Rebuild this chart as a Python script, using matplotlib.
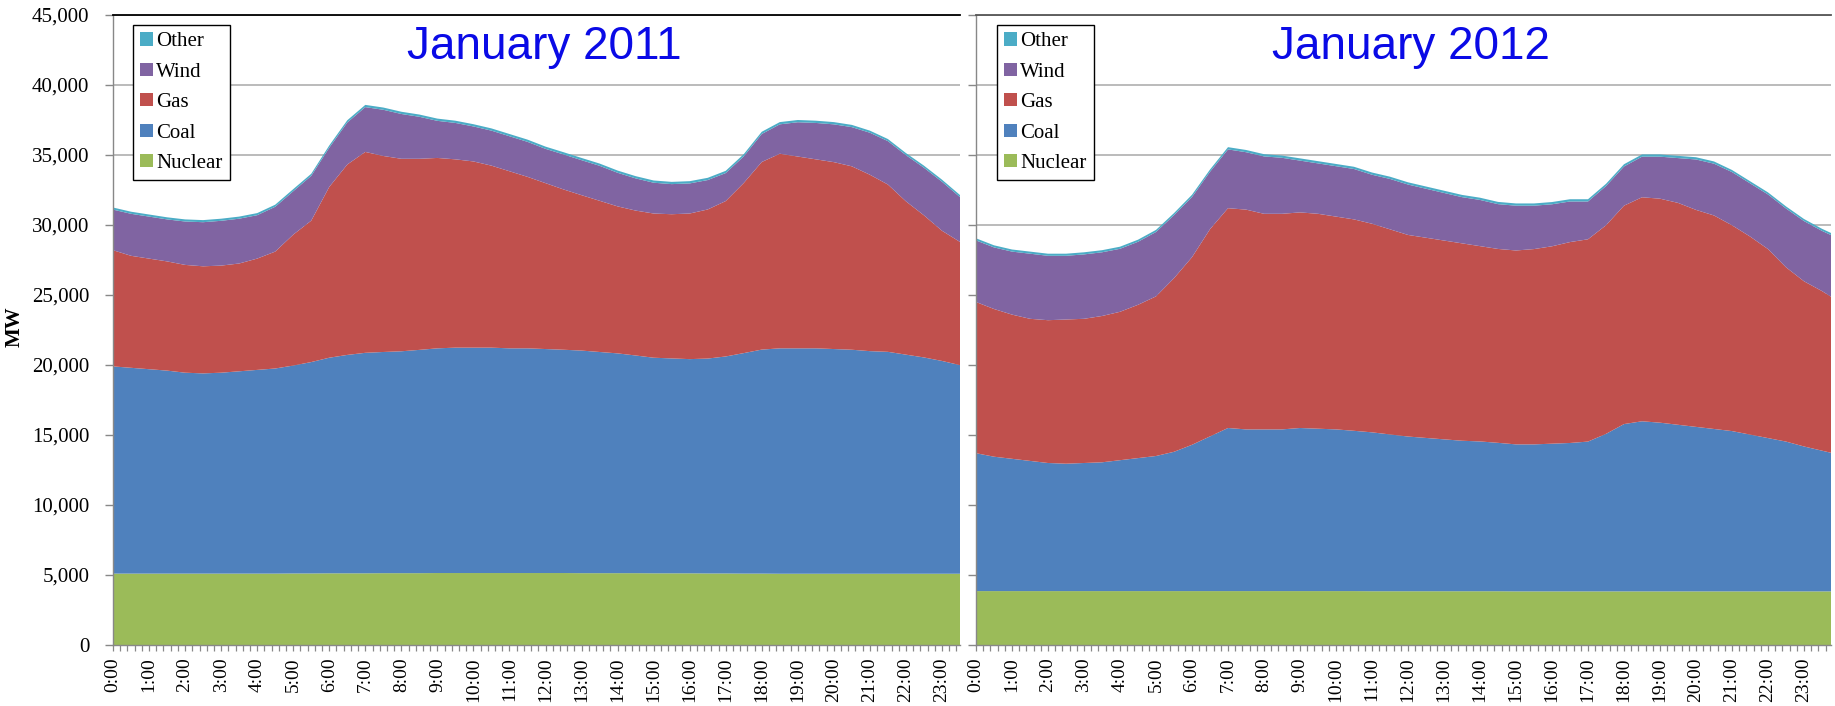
import numpy as np
import matplotlib
matplotlib.use("Agg")
import matplotlib.pyplot as plt
from matplotlib.ticker import FuncFormatter, MultipleLocator, FixedLocator
from matplotlib.patches import Patch

# ---------------- data (MW) ----------------
sources = ["Nuclear", "Coal", "Gas", "Wind", "Other"]
colors = ["#9BBB59", "#4F81BD", "#C0504D", "#8064A2", "#4BACC6"]

hours_2011 = [0.0, 0.5, 1.0, 1.5, 2.0, 2.5, 3.0, 3.5, 4.0, 4.5, 5.0, 5.5,
              6.0, 6.5, 7.0, 7.5, 8.0, 8.5, 9.0, 9.5, 10.0, 10.5, 11.0, 11.5,
              12.0, 12.5, 13.0, 13.5, 14.0, 14.5, 15.0, 15.5, 16.0, 16.5, 17.0, 17.5,
              18.0, 18.5, 19.0, 19.5, 20.0, 20.5, 21.0, 21.5, 22.0, 22.5, 23.0, 23.5]
nuclear_2011 = [5100, 5100, 5100, 5100, 5100, 5100, 5100, 5100, 5100, 5100, 5110, 5110,
                5120, 5120, 5120, 5130, 5130, 5130, 5140, 5140, 5140, 5140, 5140, 5140,
                5140, 5140, 5130, 5130, 5130, 5130, 5120, 5120, 5120, 5110, 5110, 5100,
                5100, 5090, 5090, 5090, 5090, 5090, 5090, 5090, 5090, 5090, 5090, 5090]
coal_2011 = [14800, 14700, 14600, 14500, 14350, 14300, 14350, 14450, 14550, 14650, 14850, 15100,
             15400, 15600, 15750, 15800, 15850, 15950, 16050, 16100, 16100, 16100, 16050, 16050,
             16000, 15950, 15900, 15800, 15700, 15550, 15400, 15350, 15300, 15350, 15500, 15750,
             16000, 16100, 16100, 16100, 16050, 16000, 15900, 15850, 15650, 15450, 15200, 14900]
gas_2011 = [8300, 8000, 7900, 7800, 7700, 7650, 7650, 7700, 7950, 8350, 9350, 10100,
            12200, 13600, 14350, 14000, 13750, 13650, 13600, 13450, 13300, 13000, 12650, 12250,
            11850, 11450, 11100, 10800, 10500, 10350, 10300, 10300, 10400, 10650, 11100, 12150,
            13400, 13900, 13700, 13500, 13350, 13100, 12600, 11950, 10950, 10150, 9300, 8800]
wind_2011 = [2900, 3000, 3000, 3000, 3100, 3150, 3200, 3200, 3100, 3200, 3100, 3200,
             2800, 3000, 3200, 3300, 3200, 3000, 2650, 2600, 2500, 2500, 2500, 2500,
             2450, 2500, 2500, 2500, 2400, 2300, 2200, 2150, 2150, 2100, 2000, 1900,
             2000, 2100, 2450, 2600, 2700, 2800, 3000, 3100, 3300, 3400, 3500, 3200]
other_2011 = [150, 150, 150, 150, 150, 150, 150, 150, 150, 150, 150, 150,
              160, 160, 160, 160, 160, 160, 160, 160, 160, 160, 160, 160,
              160, 160, 160, 160, 160, 160, 160, 160, 160, 160, 160, 160,
              160, 160, 160, 160, 160, 160, 150, 150, 150, 150, 150, 150]

hours_2012 = [0.0, 0.5, 1.0, 1.5, 2.0, 2.5, 3.0, 3.5, 4.0, 4.5, 5.0, 5.5,
              6.0, 6.5, 7.0, 7.5, 8.0, 8.5, 9.0, 9.5, 10.0, 10.5, 11.0, 11.5,
              12.0, 12.5, 13.0, 13.5, 14.0, 14.5, 15.0, 15.5, 16.0, 16.5, 17.0, 17.5,
              18.0, 18.5, 19.0, 19.5, 20.0, 20.5, 21.0, 21.5, 22.0, 22.5, 23.0, 23.5, 23.75]
nuclear_2012 = [3850, 3850, 3850, 3850, 3850, 3850, 3850, 3850, 3850, 3850, 3850, 3850,
                3850, 3850, 3850, 3850, 3850, 3850, 3850, 3850, 3850, 3850, 3840, 3840,
                3840, 3840, 3840, 3840, 3840, 3840, 3830, 3830, 3830, 3830, 3830, 3830,
                3830, 3830, 3830, 3830, 3830, 3830, 3830, 3830, 3830, 3830, 3830, 3830, 3830]
coal_2012 = [9850, 9600, 9450, 9300, 9150, 9100, 9150, 9200, 9350, 9500, 9650, 9950,
             10450, 11050, 11650, 11550, 11550, 11550, 11650, 11600, 11550, 11450, 11350, 11200,
             11050, 10950, 10850, 10750, 10700, 10600, 10500, 10500, 10550, 10600, 10700, 11250,
             11950, 12150, 12050, 11900, 11750, 11600, 11450, 11200, 10950, 10700, 10350, 10050, 9900]
gas_2012 = [10800, 10550, 10300, 10150, 10200, 10300, 10300, 10450, 10600, 10950, 11400, 12400,
            13400, 14800, 15700, 15700, 15400, 15400, 15400, 15350, 15200, 15100, 14900, 14650,
            14400, 14300, 14200, 14100, 13950, 13850, 13850, 13950, 14100, 14350, 14450, 14900,
            15600, 16000, 16000, 15850, 15500, 15250, 14700, 14150, 13500, 12450, 11800, 11400, 11150]
wind_2012 = [4400, 4400, 4500, 4650, 4600, 4550, 4600, 4550, 4500, 4500, 4600, 4500,
             4300, 4100, 4200, 4100, 4100, 4000, 3700, 3600, 3600, 3600, 3500, 3600,
             3600, 3500, 3400, 3300, 3300, 3200, 3200, 3100, 3000, 2900, 2700, 2800,
             2800, 2900, 3000, 3200, 3600, 3700, 3800, 3800, 3900, 4200, 4300, 4300, 4400]
other_2012 = [150, 150, 150, 150, 150, 150, 150, 150, 150, 150, 150, 150,
              160, 160, 160, 160, 160, 160, 160, 160, 160, 160, 160, 160,
              160, 160, 160, 160, 160, 160, 160, 160, 160, 160, 160, 160,
              160, 160, 160, 160, 160, 160, 150, 150, 150, 150, 150, 150, 150]

hour_labels = [f"{h}:00" for h in range(24)]
y_ticks = [0, 5000, 10000, 15000, 20000, 25000, 30000, 35000, 40000, 45000]
titles = ["January 2011", "January 2012"]

# ---------------- figure ----------------
serif = ["Liberation Serif", "DejaVu Serif"]
plt.rcParams["font.family"] = serif

W, H = 1835, 706
fig = plt.figure(figsize=(W / 100, H / 100), dpi=100)

def px_axes(x0, x1, y0, y1):
    return fig.add_axes([x0 / W, 1 - y1 / H, (x1 - x0) / W, (y1 - y0) / H])

ax1 = px_axes(113, 960, 15, 645)
ax2 = px_axes(976, 1831, 15, 645)

panels = [
    (ax1, hours_2011, [nuclear_2011, coal_2011, gas_2011, wind_2011, other_2011], titles[0], 0.5095, "black"),
    (ax2, hours_2012, [nuclear_2012, coal_2012, gas_2012, wind_2012, other_2012], titles[1], 0.5085, "#555555"),
]

for i, (ax, hrs, series, title, tx, topcol) in enumerate(panels):
    ax.stackplot(hrs, *series, colors=colors, linewidth=0, zorder=2)
    ax.set_xlim(hrs[0], hrs[-1])
    ax.set_ylim(0, 45000)
    ax.yaxis.set_major_locator(FixedLocator(y_ticks))
    ax.grid(axis="y", color="#A8A8A8", linewidth=1.1, zorder=0)
    ax.set_axisbelow(True)
    ax.xaxis.set_major_locator(FixedLocator(list(range(24))))
    ax.xaxis.set_minor_locator(MultipleLocator(0.2))
    ax.set_xticklabels(hour_labels, rotation=90, fontsize=14, va="top")
    ax.tick_params(axis="x", which="both", length=4, width=0.9, color="#888888", pad=5)
    ax.tick_params(axis="y", which="major", length=6, width=1.0, color="#888888", pad=11, labelsize=15)
    if i == 0:
        ax.yaxis.set_major_formatter(FuncFormatter(lambda v, p: f"{v:,.0f}"))
    else:
        ax.tick_params(axis="y", labelleft=False)
    for s in ["left", "bottom"]:
        ax.spines[s].set_color("#888888")
        ax.spines[s].set_linewidth(1.0)
    ax.spines["right"].set_visible(False)
    ax.spines["top"].set_color(topcol)
    ax.spines["top"].set_linewidth(1.3)

    ax.text(tx, 0.949, title, transform=ax.transAxes, ha="center", va="center",
            fontsize=33, color="#0A0AE6", family=["Liberation Sans", "DejaVu Sans"])

    handles = [Patch(facecolor=colors[k], edgecolor="none", label=sources[k]) for k in range(4, -1, -1)]
    leg = ax.legend(handles=handles, loc="upper left",
                    bbox_to_anchor=((133 - 113) / 847 if i == 0 else (997 - 976) / 855, (645 - 25) / 630),
                    fontsize=15, frameon=True, fancybox=False, shadow=False,
                    handlelength=0.6, handleheight=0.6, handletextpad=0.15,
                    borderpad=0.35, labelspacing=0.55, borderaxespad=0)
    leg.get_frame().set_edgecolor("black")
    leg.get_frame().set_linewidth(1.0)
    leg.get_frame().set_facecolor("white")
    leg.get_frame().set_alpha(1.0)

fig.text(15 / W, 1 - 327 / H, "MW", rotation=90, ha="center", va="center",
         fontsize=15, fontweight="bold")

fig.savefig("out.png", dpi=100, facecolor="white")
